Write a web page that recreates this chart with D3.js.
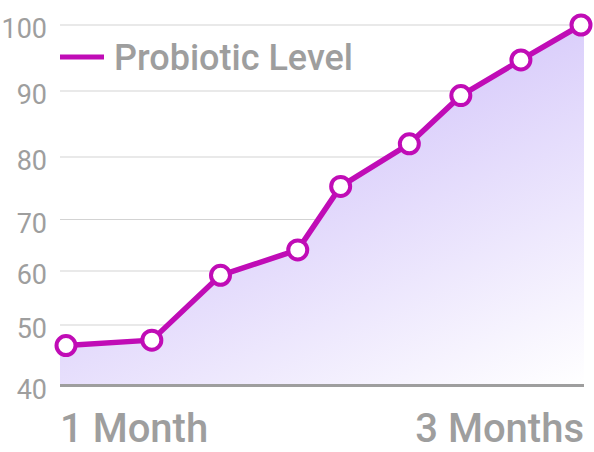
<!DOCTYPE html>
<html lang="en">
<head>
<meta charset="utf-8">
<script src="https://cdn.jsdelivr.net/npm/d3@7"></script>
<style>
  body { margin: 0; background: #fff; }
  svg { font-family: Roboto, 'Noto Sans', sans-serif; display: block; }
  .grid line { stroke: #d3d3d3; stroke-width: 1px; }
  .ylab { fill: #9e9e9e; font-size: 27px; }
  .xlab { fill: #9e9e9e; font-size: 40px; font-weight: 500; }
  .legend text { fill: #9e9e9e; font-size: 36px; font-weight: 500; }
</style>
</head>
<body>
<svg width="594" height="452"></svg>
<script>
// days since start
var days = [30, 40, 48, 57, 62, 70, 76, 83, 90];
var probiotic = [46.6, 47.5, 59.2, 64.1, 75.3, 82, 89.3, 94.7, 100];
var yTicks = [40, 50, 60, 70, 80, 90, 100];
var xLabels = ["1 Month", "3 Months"];
var seriesName = "Probiotic Level";

var svg = d3.select("svg");
var left = 60, right = 584;
var magenta = "#c00cb6";

var x = d3.scaleLinear().domain([30, 90]).range([66, 581]);
// grid in the picture is not evenly spaced, so map each tick to its line
var y = d3.scaleLinear()
    .domain(yTicks)
    .range([385.5, 325, 271, 219.5, 157, 91, 25]);

var pts = days.map((d, i) => ({ x: d, y: probiotic[i] }));

// gradient for the area
var defs = svg.append("defs");
var grad = defs.append("linearGradient")
    .attr("id", "fillGrad")
    .attr("gradientUnits", "userSpaceOnUse")
    .attr("x1", 420).attr("y1", 25)
    .attr("x2", 584).attr("y2", 385);
grad.append("stop").attr("offset", 0).attr("stop-color", "#d3c5fa");
grad.append("stop").attr("offset", 1).attr("stop-color", "#ffffff");

// gridlines
svg.append("g").attr("class", "grid")
  .selectAll("line")
  .data(yTicks.slice(1))
  .enter().append("line")
    .attr("x1", left).attr("x2", right)
    .attr("y1", d => y(d)).attr("y2", d => y(d));

// area, stretched to plot edges
var areaPts = [{ x: x.invert(left), y: probiotic[0] }]
  .concat(pts)
  .concat([{ x: x.invert(right), y: probiotic[probiotic.length - 1] }]);
var area = d3.area()
    .x(d => x(d.x))
    .y0(y(40))
    .y1(d => y(d.y));
svg.append("path")
    .datum(areaPts)
    .attr("d", area)
    .attr("fill", "url(#fillGrad)");

// baseline
svg.append("line")
    .attr("x1", left).attr("x2", right)
    .attr("y1", y(40)).attr("y2", y(40))
    .attr("stroke", "#9e9e9e")
    .attr("stroke-width", 3);

// y labels
svg.append("g")
  .selectAll("text")
  .data(yTicks)
  .enter().append("text")
    .attr("class", "ylab")
    .attr("x", 47)
    .attr("y", d => y(d) + 13)
    .attr("text-anchor", "end")
    .text(d => d);

// x labels
svg.append("text").attr("class", "xlab")
    .attr("x", left).attr("y", 442)
    .attr("text-anchor", "start")
    .text(xLabels[0]);
svg.append("text").attr("class", "xlab")
    .attr("x", right).attr("y", 442)
    .attr("text-anchor", "end")
    .text(xLabels[1]);

// line + points
var line = d3.line().x(d => x(d.x)).y(d => y(d.y));
svg.append("path")
    .datum(pts)
    .attr("d", line)
    .attr("fill", "none")
    .attr("stroke", magenta)
    .attr("stroke-width", 5.5)
    .attr("stroke-linejoin", "round");

svg.append("g")
  .selectAll("circle")
  .data(pts)
  .enter().append("circle")
    .attr("cx", d => x(d.x))
    .attr("cy", d => y(d.y))
    .attr("r", 9.5)
    .attr("fill", "#fff")
    .attr("stroke", magenta)
    .attr("stroke-width", 4);

// legend
var legend = svg.append("g").attr("class", "legend");
legend.append("line")
    .attr("x1", 60).attr("x2", 104)
    .attr("y1", 57).attr("y2", 57)
    .attr("stroke", magenta)
    .attr("stroke-width", 5);
legend.append("text")
    .attr("x", 114).attr("y", 70)
    .text(seriesName);
</script>
</body>
</html>
